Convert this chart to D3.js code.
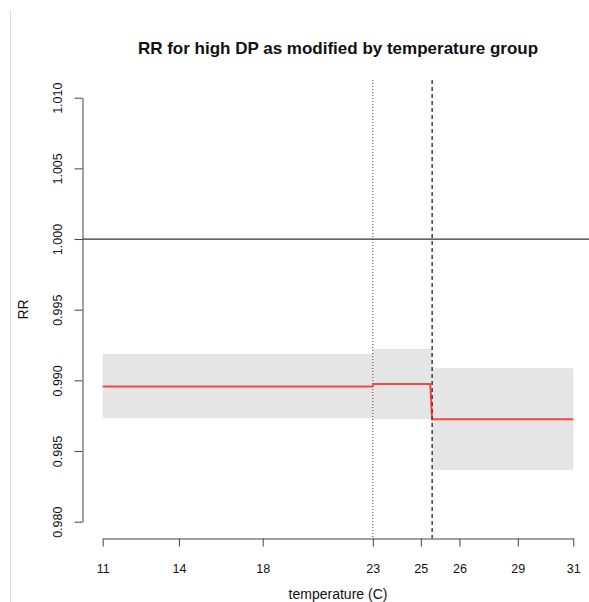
<!DOCTYPE html>
<html>
<head>
<meta charset="utf-8">
<script src="https://cdn.jsdelivr.net/npm/d3@7"></script>
<style>
  body { margin: 0; background: #fff; }
  svg text { font-family: "Liberation Sans", Arial, sans-serif; fill: #111; }
</style>
</head>
<body>
<svg width="589" height="602"></svg>
<script>
// ---- data ----
// x is the position along the temperature axis (0..100), ticks carry the temperature labels
var tickPos = [0, 16.2, 34.0, 57.4, 67.6, 75.8, 88.2, 100];
var tickLabels = ["11", "14", "18", "23", "25", "26", "29", "31"];
var yTicks = [0.980, 0.985, 0.990, 0.995, 1.000, 1.005, 1.010];

// temperature groups: start, end, RR estimate and 95% CI
var groupStart = [0, 57.4, 70.0];
var groupEnd = [57.4, 70.0, 100];
var rrLow = [0.98732, 0.98725, 0.98366];
var rrHigh = [0.99187, 0.99222, 0.99086];

// red estimate line
var linePos = [0, 57.3, 57.6, 69.6, 70.0, 100];
var lineRR = [0.98956, 0.98956, 0.98975, 0.98975, 0.98725, 0.98725];

var cutDotted = 57.4;
var cutDashed = 70.0;

// ---- layout ----
var svg = d3.select("svg");
var x = d3.scaleLinear().domain([0, 100]).range([102.7, 573.3]);
var y = d3.scaleLinear().domain([0.980, 1.010]).range([521.7, 97.7]);
var plotTop = 80, plotBottom = 538.5, plotLeft = 82.5;

// faint frame line on the left
svg.append("line")
  .attr("x1", 10.5).attr("x2", 10.5).attr("y1", 10).attr("y2", 602)
  .attr("stroke", "#dddddd").attr("stroke-width", 1);

// CI bands
var groups = d3.range(groupStart.length);
svg.append("g").selectAll("rect")
  .data(groups)
  .enter().append("rect")
  .attr("x", i => x(groupStart[i]))
  .attr("width", i => x(groupEnd[i]) - x(groupStart[i]))
  .attr("y", i => y(rrHigh[i]))
  .attr("height", i => y(rrLow[i]) - y(rrHigh[i]))
  .attr("fill", "#e5e5e5");

// reference line RR = 1
svg.append("line")
  .attr("x1", plotLeft).attr("x2", 589)
  .attr("y1", y(1)).attr("y2", y(1))
  .attr("stroke", "#333").attr("stroke-width", 1.2);

// cut lines
svg.append("line")
  .attr("x1", x(cutDotted)).attr("x2", x(cutDotted))
  .attr("y1", plotTop).attr("y2", plotBottom)
  .attr("stroke", "#444").attr("stroke-width", 1)
  .attr("stroke-dasharray", "1,2");
svg.append("line")
  .attr("x1", x(cutDashed)).attr("x2", x(cutDashed))
  .attr("y1", plotTop).attr("y2", plotBottom)
  .attr("stroke", "#111").attr("stroke-width", 1.2)
  .attr("stroke-dasharray", "4,3");

// estimate line
var pts = linePos.map((p, i) => [x(p), y(lineRR[i])]);
svg.append("path")
  .attr("d", d3.line()(pts))
  .attr("fill", "none")
  .attr("stroke", "rgba(255,0,0,0.7)")
  .attr("stroke-width", 2);

// axes
var xAxis = d3.axisBottom(x)
  .tickValues(tickPos)
  .tickFormat((d, i) => tickLabels[i])
  .tickSize(8)
  .tickSizeOuter(0);
var xAxisGroup = svg.append("g")
  .attr("transform", "translate(0," + plotBottom + ")")
  .call(xAxis);
xAxisGroup.selectAll("path, line").attr("stroke", "#444");
xAxisGroup.selectAll("text")
  .attr("y", 30).attr("dy", "0.35em")
  .attr("font-size", 12.5).style("fill", "#111");

var yAxis = d3.axisLeft(y)
  .tickValues(yTicks)
  .tickFormat(d3.format(".3f"))
  .tickSize(8)
  .tickSizeOuter(0);
var yAxisGroup = svg.append("g")
  .attr("transform", "translate(" + plotLeft + ",0)")
  .call(yAxis);
yAxisGroup.selectAll("path, line").attr("stroke", "#444");
yAxisGroup.selectAll("text")
  .attr("transform", "rotate(-90)")
  .attr("text-anchor", "middle")
  .attr("x", 0).attr("y", -24.5).attr("dy", "0.35em")
  .attr("font-size", 12.5).style("fill", "#111");

// labels
svg.append("text")
  .attr("x", 338).attr("y", 54)
  .attr("text-anchor", "middle")
  .attr("font-size", 17).attr("font-weight", "bold")
  .text("RR for high DP as modified by temperature group");
svg.append("text")
  .attr("x", 338).attr("y", 599)
  .attr("text-anchor", "middle")
  .attr("font-size", 14)
  .text("temperature (C)");
svg.append("text")
  .attr("transform", "translate(23," + 309.5 + ") rotate(-90)")
  .attr("text-anchor", "middle")
  .attr("dy", "0.35em")
  .attr("font-size", 14)
  .text("RR");
</script>
</body>
</html>
